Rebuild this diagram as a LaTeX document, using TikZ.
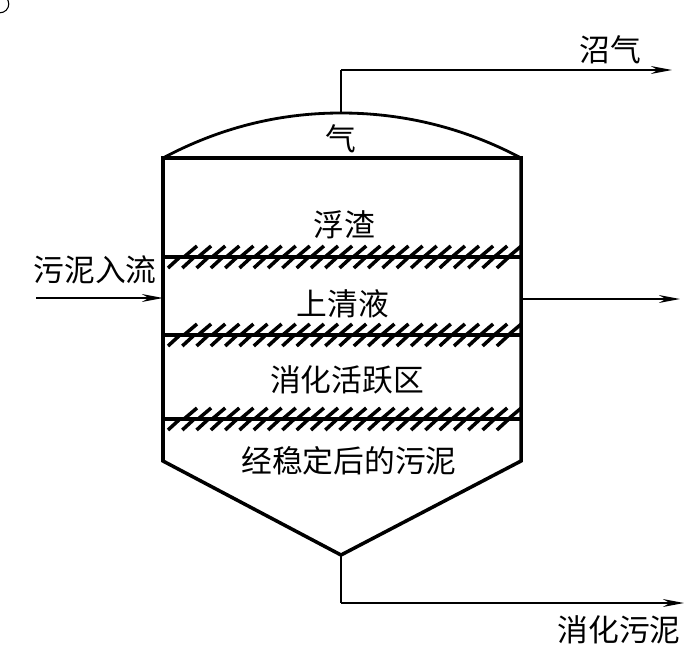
\documentclass[tikz,border=0pt]{standalone}
\usepackage{fontspec}
\setmainfont{Noto Sans CJK SC}
\usetikzlibrary{arrows.meta,positioning}
\begin{document}
\begin{tikzpicture}[x=0.02cm,y=-0.02cm,
  lbl/.style={inner sep=0pt,font=\fontsize{17.5pt}{20pt}\selectfont},
  wall/.style={draw,line width=2pt},
  pipe/.style={draw,line width=0.9pt},
  flow/.style={pipe,-{Stealth[length=12pt,width=4.5pt]}},
  hatch/.style={line width=2pt}, >=Stealth]
\useasboundingbox (0,0) rectangle (685,645);
\coordinate (TL) at (163,158);
\coordinate (TR) at (521,158);
\coordinate (BL) at (163,461);
\coordinate (BR) at (521,461);
\coordinate (TIP) at (341,555);
\coordinate (DOME) at (341,113);
\coordinate (GASUP) at (341,70);
\coordinate (GASEND) at (672,70);
\coordinate (INSTART) at (36,298);
\coordinate (INEND) at (163,298);
\coordinate (OUTSTART) at (521,299);
\coordinate (OUTEND) at (680,299);
\coordinate (SLUDGE) at (341,603);
\coordinate (SLUDGEEND) at (684,603);
\node[lbl] (GASTOP) at (610,50) {沼气};
\node[lbl] (GAS) at (341,139) {气};
\node[lbl] (SCUM) at (344,225) {浮渣};
\node[lbl] (LIQUOR) at (343,304) {上清液};
\node[lbl] (ACTIVE) at (347,380) {消化活跃区};
\node[lbl] (STABLE) at (349,461) {经稳定后的污泥};
\node[lbl] (INFLOW) at (95,270) {污泥入流};
\node[lbl] (DIGESTED) at (619,630) {消化污泥};
\node[draw,circle,line width=0.6pt,minimum size=10pt,inner sep=0pt] (DOT) at (0,4) {};
% tank
\draw[wall,line join=miter] (TL) -- (BL) -- (TIP) -- (BR) -- (TR) -- cycle;
\draw[wall,line width=1.6pt] (TL) .. controls (225,125) and (285,113) .. (DOME) .. controls (397,113) and (459,125) .. (TR);
% liquid levels
\foreach \lev in {257,335,419}{
  \draw[line width=1.8pt] (163,\lev) -- (521,\lev);
  \foreach \xi in {0,...,23}{
    \draw[hatch] ({168+\xi*14.3},\lev+11) -- ++(12,-11);
    \draw[hatch] ({184+\xi*14.1},\lev) -- ++(13,-11);
  }
}
% pipes
\draw[pipe] (DOME) -- (GASUP);
\draw[flow] (GASUP) -- (GASEND);
\draw[flow] (INSTART) -- (INEND);
\draw[flow] (OUTSTART) -- (OUTEND);
\draw[pipe] (TIP) -- (SLUDGE);
\draw[flow] (SLUDGE) -- (SLUDGEEND);
\end{tikzpicture}
\end{document}
